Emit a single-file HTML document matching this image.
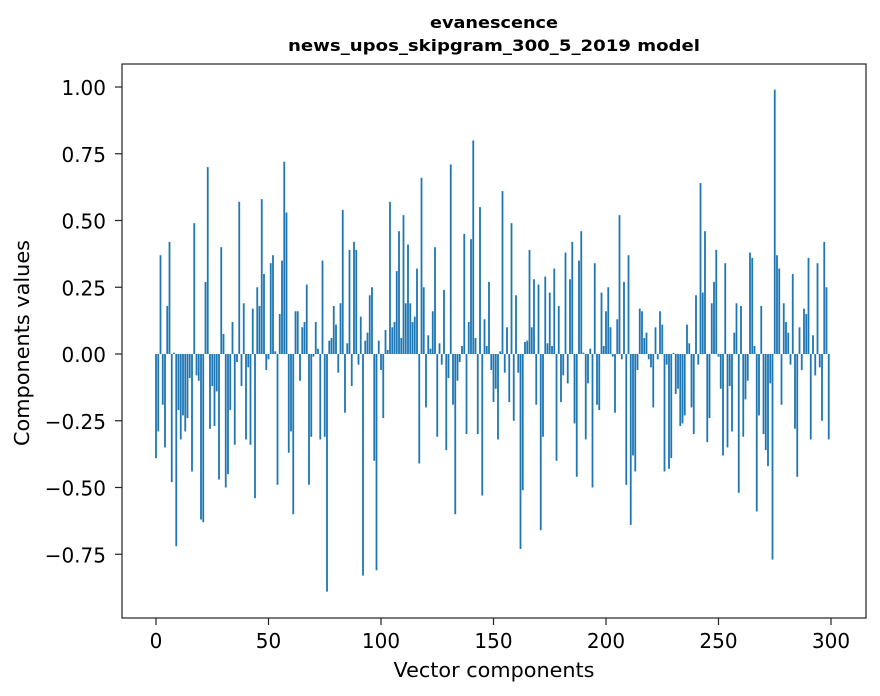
<!DOCTYPE html>
<html><head><meta charset="utf-8"><style>
html,body{margin:0;padding:0;background:#fff;}
svg{display:block;font-family:"DejaVu Sans","Liberation Sans",sans-serif;}
</style></head><body>
<svg id="chart" width="880" height="696" viewBox="0 0 880 696">
<rect x="0" y="0" width="880" height="696" fill="#fff"/>
<text x="494" y="28" text-anchor="middle" font-size="16" font-weight="bold" textLength="128" lengthAdjust="spacingAndGlyphs">evanescence</text>
<text x="494" y="51" text-anchor="middle" font-size="16" font-weight="bold" textLength="412" lengthAdjust="spacingAndGlyphs">news_upos_skipgram_300_5_2019 model</text>
<g id="bars"></g>
<g id="xticks"></g>
<g id="yticks"></g>
<rect x="122" y="64" width="744" height="554" fill="none" stroke="#222" stroke-width="1.2"/>
<text x="494" y="677" text-anchor="middle" font-size="20" textLength="201" lengthAdjust="spacingAndGlyphs">Vector components</text>
<text x="0" y="0" transform="translate(29,343) rotate(-90)" text-anchor="middle" font-size="20" textLength="206" lengthAdjust="spacingAndGlyphs">Components values</text>
</svg>
<script>
const values = [
-0.39,-0.29,0.37,-0.19,-0.35,0.18,0.42,-0.48,0.005,-0.72,
-0.21,-0.32,-0.23,-0.29,-0.24,-0.09,-0.44,0.49,-0.08,-0.10,
-0.62,-0.63,0.27,0.70,-0.28,-0.12,-0.27,-0.14,-0.47,0.40,
0.075,-0.50,-0.45,-0.21,0.12,-0.34,-0.03,0.57,-0.12,0.19,
-0.32,-0.05,-0.34,0.17,-0.54,0.25,0.18,0.58,0.30,-0.06,
-0.02,0.34,0.37,0.01,-0.49,0.15,0.35,0.72,0.53,-0.37,
-0.29,-0.60,0.16,0.16,-0.10,0.10,0.12,0.26,-0.49,-0.31,
-0.01,0.12,0.02,-0.32,0.35,-0.31,-0.89,0.05,0.06,0.18,
0.11,-0.07,0.19,0.54,-0.22,0.04,0.39,-0.12,0.42,0.39,
-0.04,0.14,-0.83,0.05,0.08,0.22,0.25,-0.40,-0.81,0.05,
-0.06,-0.24,0.09,0.015,0.57,0.10,0.12,0.31,0.46,0.06,
0.52,0.19,0.41,0.19,0.12,0.14,0.32,-0.41,0.66,0.25,
-0.20,0.07,0.02,0.16,0.40,-0.31,0.04,-0.04,0.24,-0.36,
-0.09,0.71,-0.19,-0.60,-0.10,-0.03,0.03,0.45,-0.30,0.12,
0.43,0.80,0.06,-0.30,0.55,-0.53,0.13,0.03,0.27,-0.06,
-0.18,-0.13,-0.32,0.01,0.61,-0.07,0.10,-0.18,0.49,-0.25,
0.22,-0.07,-0.73,-0.51,0.045,0.05,0.39,0.10,0.28,-0.19,
0.26,-0.66,-0.31,0.29,0.04,0.23,0.03,0.32,-0.40,0.18,
-0.18,-0.08,0.38,-0.11,0.28,0.42,-0.26,-0.46,0.35,0.46,
0.005,-0.32,-0.11,0.02,-0.50,0.34,-0.19,-0.21,0.23,0.03,
0.16,0.25,0.10,-0.01,-0.22,0.13,0.52,-0.02,0.27,-0.49,
0.37,-0.64,-0.38,-0.44,-0.06,0.17,0.16,0.06,0.08,-0.02,
-0.05,-0.20,0.10,-0.02,0.16,0.11,-0.44,-0.04,-0.43,-0.39,
0.004,-0.15,-0.13,-0.27,-0.26,-0.23,0.11,0.04,-0.20,-0.30,
0.22,-0.04,0.64,0.23,0.46,-0.33,-0.24,0.19,0.27,0.39,
-0.01,-0.13,-0.38,0.34,-0.35,-0.12,-0.29,0.08,0.19,-0.52,
0.18,-0.31,-0.17,-0.10,0.38,0.36,0.03,-0.59,-0.23,0.18,
-0.30,-0.36,-0.42,-0.11,-0.77,0.99,0.37,0.32,-0.19,0.19,
0.12,0.08,-0.04,0.30,-0.28,-0.46,0.10,-0.06,0.17,0.15,
0.36,-0.32,0.07,-0.08,0.34,-0.05,-0.25,0.42,0.25,-0.32
];
const xTicks = [0,50,100,150,200,250,300];
const yTicks = [-0.75,-0.5,-0.25,0,0.25,0.5,0.75,1.0];
const yTickLabels = ["\u22120.75","\u22120.50","\u22120.25","0.00","0.25","0.50","0.75","1.00"];

const NS = "http://www.w3.org/2000/svg";
const xs = v => 156 + 2.25 * v;
const ys = v => 354 - 267 * v;
const barW = 1.8;

const gb = document.getElementById('bars');
values.forEach((v, i) => {
  const r = document.createElementNS(NS, 'rect');
  const y0 = ys(0), y1 = ys(v);
  r.setAttribute('x', xs(i) - barW / 2);
  r.setAttribute('y', Math.min(y0, y1));
  r.setAttribute('width', barW);
  r.setAttribute('height', Math.max(Math.abs(y1 - y0), 0.3));
  r.setAttribute('fill', '#1f77b4');
  
  
  gb.appendChild(r);
});

const gx = document.getElementById('xticks');
xTicks.forEach(t => {
  const l = document.createElementNS(NS, 'line');
  l.setAttribute('x1', xs(t)); l.setAttribute('x2', xs(t));
  l.setAttribute('y1', 618); l.setAttribute('y2', 625);
  l.setAttribute('stroke', '#222'); l.setAttribute('stroke-width', '1.2');
  
  
  gx.appendChild(l);
  const tx = document.createElementNS(NS, 'text');
  tx.setAttribute('x', xs(t)); tx.setAttribute('y', 648);
  tx.setAttribute('text-anchor', 'middle'); tx.setAttribute('font-size', '20');
  tx.textContent = String(t);
  
  
  gx.appendChild(tx);
});

const gy = document.getElementById('yticks');
yTicks.forEach((t, i) => {
  const l = document.createElementNS(NS, 'line');
  l.setAttribute('x1', 115); l.setAttribute('x2', 122);
  l.setAttribute('y1', ys(t)); l.setAttribute('y2', ys(t));
  l.setAttribute('stroke', '#222'); l.setAttribute('stroke-width', '1.2');
  
  
  gy.appendChild(l);
  const tx = document.createElementNS(NS, 'text');
  tx.setAttribute('x', 106); tx.setAttribute('y', ys(t) + 8);
  tx.setAttribute('text-anchor', 'end'); tx.setAttribute('font-size', '20');
  tx.textContent = yTickLabels[i];
  
  
  gy.appendChild(tx);
});
</script>
</body></html>
